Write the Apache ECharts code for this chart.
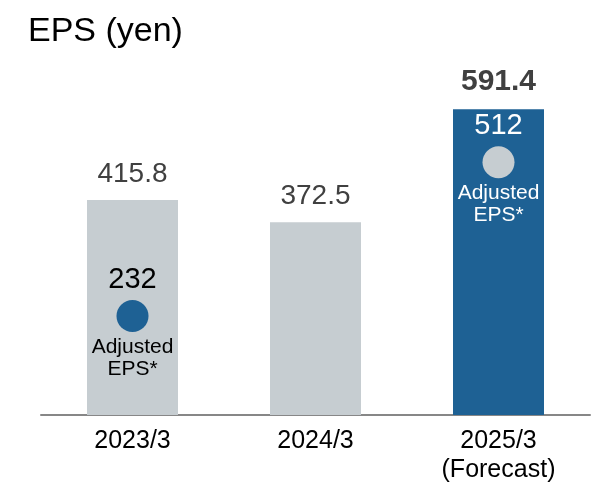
<!DOCTYPE html>
<html>
<head>
<meta charset="utf-8">
<script src="https://cdn.jsdelivr.net/npm/echarts@6/dist/echarts.min.js"></script>
<style>
  html, body { margin: 0; padding: 0; background: #fff; }
  #main { width: 596px; height: 494px; }
</style>
</head>
<body>
<div id="main"></div>
<script>
var years = ['2023/3', '2024/3', '2025/3\n(Forecast)'];
var eps = [415.8, 372.5, 591.4];
var adjustedEps = [232, null, 512];

var FONT = '"Liberation Sans", Arial, sans-serif';
var GRAY = '#c6cdd1';
var BLUE = '#1e6194';

var chartDom = document.getElementById('main');
var myChart = echarts.init(chartDom);

var barData = eps.map(function (v, i) {
  var forecast = i === 2;
  return {
    value: v,
    itemStyle: { color: forecast ? BLUE : GRAY },
    label: {
      fontWeight: forecast ? 'bold' : 'normal',
      fontSize: forecast ? 30 : 28
    }
  };
});

// circles sit a bit under the value they stand for, as in the original slide
var offsets = [[0, 21], null, [0, 12]];
var circleData = adjustedEps.map(function (v, i) {
  if (v == null) return null;
  var onBlue = i === 2;
  return {
    value: v,
    symbolOffset: offsets[i],
    itemStyle: { color: onBlue ? GRAY : BLUE, opacity: 1 },
    label: { color: onBlue ? '#fff' : '#000' }
  };
});
var noteData = adjustedEps.map(function (v, i) {
  if (v == null) return null;
  return {
    value: v,
    symbolOffset: offsets[i],
    label: { color: i === 2 ? '#fff' : '#000' }
  };
});

var option = {
  animation: false,
  title: {
    text: 'EPS (yen)',
    left: 23,
    top: 10,
    textStyle: { fontFamily: FONT, fontSize: 34, fontWeight: 'normal', color: '#000' }
  },
  grid: { left: 41, right: 6, top: 53, bottom: 79 },
  xAxis: {
    type: 'category',
    data: years,
    axisTick: { show: false },
    axisLine: { lineStyle: { color: '#878787', width: 2 } },
    axisLabel: {
      fontFamily: FONT,
      fontSize: 25,
      color: '#000',
      margin: 12,
      lineHeight: 29
    }
  },
  yAxis: {
    type: 'value',
    min: 0,
    max: 700,
    show: false
  },
  series: [
    {
      type: 'bar',
      data: barData,
      barWidth: 91,
      label: {
        show: true,
        position: 'top',
        distance: 12,
        fontFamily: FONT,
        color: '#404040'
      }
    },
    {
      type: 'scatter',
      data: circleData,
      symbolSize: 32,
      itemStyle: { opacity: 1 },
      label: {
        show: true,
        position: 'top',
        distance: 6,
        fontFamily: FONT,
        fontSize: 29
      }
    },
    {
      type: 'scatter',
      data: noteData,
      symbolSize: 32,
      itemStyle: { color: 'rgba(0,0,0,0)', opacity: 1 },
      silent: true,
      label: {
        show: true,
        position: 'bottom',
        distance: 4,
        fontFamily: FONT,
        fontSize: 21,
        lineHeight: 22,
        align: 'center',
        formatter: 'Adjusted\nEPS*'
      }
    }
  ]
};

option && myChart.setOption(option);
</script>
</body>
</html>
